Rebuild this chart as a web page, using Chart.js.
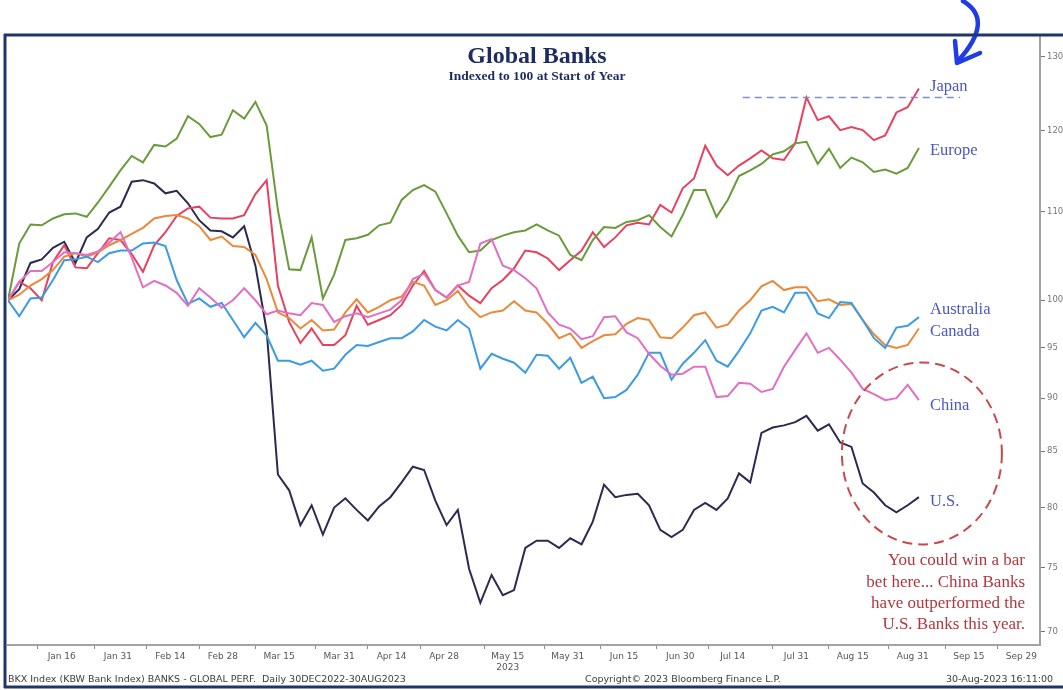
<!DOCTYPE html>
<html>
<head>
<meta charset="utf-8">
<title>Global Banks</title>
<script src="https://cdn.jsdelivr.net/npm/chart.js@4.4.1/dist/chart.umd.min.js"></script>
<style>
    html, body { margin: 0; padding: 0; background: #fff; }
    canvas { display: block; }
</style>
</head>
<body>
<canvas id="banksGraph" width="1063" height="690"></canvas>
<script>
// days since 30 Dec 2022 (sampled every 3 days up to 30 Aug 2023)
const days = [0, 3, 6, 9, 12, 15, 18, 21, 24, 27, 30, 33, 36, 39, 42, 45, 48, 51, 54, 57,
    60, 63, 66, 69, 72, 75, 78, 81, 84, 87, 90, 93, 96, 99, 102, 105, 108, 111, 114, 117,
    120, 123, 126, 129, 132, 135, 138, 141, 144, 147, 150, 153, 156, 159, 162, 165, 168, 171, 174, 177,
    180, 183, 186, 189, 192, 195, 198, 201, 204, 207, 210, 213, 216, 219, 222, 225, 228, 231, 234, 237,
    240, 243];

const japan = [100, 102.0, 101.3, 100.0, 104.2, 106.1, 103.6, 103.5, 105.2, 106.9,
    106.7, 105.1, 103.1, 106.1, 107.6, 109.5, 110.4, 110.6, 109.3, 109.2,
    109.2, 109.6, 112.1, 113.8, 101.6, 97.7, 95.5, 97.0, 95.3, 95.3,
    96.3, 99.4, 97.4, 97.9, 98.4, 99.5, 101.6, 103.2, 101.1, 100.3,
    101.6, 100.5, 99.7, 101.3, 102.2, 103.5, 105.5, 105.3, 104.6, 103.3,
    104.4, 105.5, 107.6, 105.9, 107.0, 108.4, 108.7, 108.5, 110.8, 109.9,
    112.8, 114.0, 118.1, 115.6, 114.4, 115.6, 116.5, 117.5, 116.5, 116.3,
    118.4, 124.4, 121.4, 121.9, 120.1, 120.5, 120.1, 118.8, 119.4, 122.4,
    123.1, 125.6];

const europe = [100, 106.3, 108.5, 108.4, 109.2, 109.7, 109.8, 109.4, 111.1, 113.0,
    115.0, 116.8, 116.0, 118.2, 118.0, 119.0, 121.9, 120.9, 119.2, 119.5,
    122.7, 121.6, 123.8, 120.7, 110.2, 103.4, 103.3, 107.0, 100.2, 102.8,
    106.7, 106.9, 107.3, 108.4, 108.7, 111.4, 112.6, 113.2, 112.4, 109.8,
    107.2, 105.3, 105.5, 106.7, 107.2, 107.6, 107.8, 108.5, 107.8, 107.2,
    105.0, 104.4, 106.7, 108.2, 108.1, 108.8, 109.0, 109.6, 108.2, 107.1,
    109.6, 112.6, 112.6, 109.4, 111.4, 114.3, 115.0, 115.8, 117.0, 117.4,
    118.4, 118.6, 115.8, 117.7, 115.3, 116.6, 116.0, 114.8, 115.1, 114.6,
    115.3, 117.8];

const australia = [100, 98.3, 100.2, 100.3, 102.2, 104.4, 104.5, 104.8, 104.2, 105.2,
    105.5, 105.5, 106.3, 106.4, 106.0, 102.2, 99.6, 100.2, 99.3, 99.7,
    97.9, 96.1, 97.6, 96.3, 93.7, 93.7, 93.3, 93.7, 92.7, 92.9,
    94.3, 95.3, 95.2, 95.6, 96.0, 96.0, 96.7, 97.9, 97.2, 96.8,
    97.9, 97.0, 92.9, 94.4, 93.9, 93.5, 92.5, 94.3, 94.2, 92.9,
    94.0, 91.5, 92.1, 90.0, 90.1, 90.8, 92.3, 94.5, 94.5, 91.8,
    93.4, 94.5, 95.8, 93.7, 93.1, 94.7, 96.5, 98.9, 99.3, 98.7,
    100.8, 100.8, 98.6, 98.1, 99.8, 99.7, 97.9, 96.0, 95.0, 97.1,
    97.3, 98.2];

const canada = [100, 100.6, 101.6, 102.3, 103.3, 104.8, 105.2, 104.8, 105.3, 106.1,
    106.7, 107.4, 108.1, 109.2, 109.5, 109.6, 109.2, 108.3, 106.7, 107.1,
    106.0, 105.9, 105.0, 102.3, 98.7, 98.1, 97.0, 97.9, 96.8, 96.9,
    98.7, 100.1, 98.7, 99.3, 100.0, 100.4, 102.0, 101.6, 99.5, 100.0,
    101.0, 99.3, 98.2, 98.7, 98.9, 99.9, 98.9, 98.7, 97.5, 96.0,
    96.5, 95.0, 95.7, 96.3, 96.4, 97.5, 98.1, 97.9, 96.1, 96.0,
    97.1, 98.4, 98.7, 97.1, 97.4, 98.9, 100.0, 101.5, 102.1, 101.1,
    101.4, 101.4, 99.9, 100.1, 99.5, 99.6, 97.9, 96.4, 95.3, 95.0,
    95.3, 97.0];

const china = [100, 102.0, 103.2, 103.2, 104.2, 105.3, 105.2, 105.0, 105.4, 106.4,
    107.6, 104.7, 101.4, 102.1, 101.6, 100.8, 99.4, 101.3, 100.3, 99.2,
    100.0, 101.3, 100.0, 98.5, 98.9, 98.6, 98.4, 99.7, 99.5, 97.7,
    98.3, 98.6, 98.2, 98.6, 99.0, 100.0, 102.3, 102.9, 101.1, 100.3,
    101.6, 102.0, 106.3, 106.8, 103.8, 103.3, 102.4, 101.3, 98.7, 97.4,
    97.0, 95.9, 96.2, 98.2, 98.3, 96.6, 96.0, 94.4, 93.2, 92.3,
    92.4, 93.1, 93.1, 90.1, 90.2, 91.5, 91.4, 90.6, 90.9, 93.1,
    94.8, 96.5, 94.5, 95.0, 93.8, 92.5, 90.9, 90.4, 89.8, 90.0,
    91.3, 89.8];

const us = [100, 101.2, 104.1, 104.5, 105.8, 106.5, 104.1, 107.0, 108.0, 109.9,
    110.6, 113.6, 113.8, 113.4, 112.2, 112.5, 111.0, 109.0, 107.8, 107.7,
    107.0, 108.3, 103.8, 96.8, 82.9, 81.5, 78.5, 80.2, 77.7, 80.0,
    80.8, 79.8, 78.9, 80.1, 80.9, 82.2, 83.6, 83.3, 80.6, 78.5,
    79.8, 74.9, 72.2, 74.4, 72.8, 73.2, 76.6, 77.2, 77.2, 76.6,
    77.4, 76.9, 78.8, 82.0, 80.9, 81.1, 81.2, 80.2, 78.1, 77.5,
    78.1, 79.8, 80.4, 79.8, 80.8, 83.0, 82.2, 86.7, 87.2, 87.4,
    87.7, 88.3, 86.9, 87.5, 85.8, 85.4, 82.1, 81.3, 80.2, 79.6,
    80.2, 80.9];

// x axis labels (same day count as above)
const tickDays = [17, 32, 46, 60, 75, 91, 105, 119, 136, 152, 167, 182, 196, 213, 228, 244, 259, 273];
const tickLabels = ['Jan 16', 'Jan 31', 'Feb 14', 'Feb 28', 'Mar 15', 'Mar 31', 'Apr 14', 'Apr 28',
    ['May 15', '2023'], 'May 31', 'Jun 15', 'Jun 30', 'Jul 14', 'Jul 31', 'Aug 15', 'Aug 31', 'Sep 15', 'Sep 29'];
const yTicks = [70, 75, 80, 85, 90, 95, 100, 110, 120, 130];

// Japan's July high, and how far the dashed line for it runs
const japanHighDay = 213;
const japanHighSpan = [196, 254];

const serif = '"Liberation Serif", "DejaVu Serif", serif';
const sans = '"DejaVu Sans", "Liberation Sans", sans-serif';
const labelBlue = '#4c57c2';

function series(label, data, color, tag, dy) {
    return {
        label: label,
        data: data,
        borderColor: color,
        borderWidth: 2,
        pointRadius: 0,
        tension: 0,
        tag: tag,
        tagOffset: dy
    };
}

// titles, end labels, notes and the page frame
const decorations = {
    id: 'decorations',
    beforeDraw(chart) {
        const ctx = chart.ctx;
        ctx.save();
        ctx.fillStyle = '#fff';
        ctx.fillRect(0, 0, chart.width, chart.height);
        ctx.restore();
    },
    afterDatasetsDraw(chart) {
        const ctx = chart.ctx;
        const x = chart.scales.x;
        const y = chart.scales.y;
        ctx.save();

        // title
        ctx.fillStyle = '#1d2b5e';
        ctx.textAlign = 'center';
        ctx.textBaseline = 'middle';
        ctx.font = 'bold 24px ' + serif;
        ctx.fillText('Global Banks', 537, 57);
        ctx.font = 'bold 13.5px ' + serif;
        ctx.fillText('Indexed to 100 at Start of Year', 537, 77);

        // dashed line at the Japan high
        const high = japan[days.indexOf(japanHighDay)];
        const hy = y.getPixelForValue(high);
        ctx.strokeStyle = '#7f8dc9';
        ctx.lineWidth = 1.5;
        ctx.setLineDash([7, 5]);
        ctx.beginPath();
        ctx.moveTo(x.getPixelForValue(japanHighSpan[0]), hy);
        ctx.lineTo(x.getPixelForValue(japanHighSpan[1]), hy);
        ctx.stroke();

        // series names next to the last points
        ctx.setLineDash([]);
        ctx.textAlign = 'left';
        ctx.font = '16.5px ' + serif;
        ctx.fillStyle = labelBlue;
        chart.data.datasets.forEach(ds => {
            if (!ds.tag) return;
            const last = ds.data[ds.data.length - 1];
            ctx.fillText(ds.tag, 930, y.getPixelForValue(last) + ds.tagOffset);
        });

        // dashed ring round the year-end U.S. / China gap
        const cx = x.getPixelForValue(days[days.length - 1]) + 3;
        const cy = y.getPixelForValue(84.8);
        ctx.strokeStyle = '#c9474f';
        ctx.lineWidth = 2;
        ctx.setLineDash([10, 6]);
        ctx.beginPath();
        ctx.ellipse(cx, cy, 80, 91, 0, 0, Math.PI * 2);
        ctx.stroke();
        ctx.setLineDash([]);

        ctx.fillStyle = '#b3363e';
        ctx.textAlign = 'right';
        ctx.font = '17px ' + serif;
        const note = ['You could win a bar', 'bet here... China Banks', 'have outperformed the', 'U.S. Banks this year.'];
        note.forEach((line, i) => ctx.fillText(line, 1025, 561 + i * 21.3));

        // hand drawn arrow
        ctx.strokeStyle = '#1f3de2';
        ctx.lineWidth = 4.5;
        ctx.lineCap = 'round';
        ctx.lineJoin = 'round';
        ctx.beginPath();
        ctx.moveTo(963, 1);
        ctx.quadraticCurveTo(995, 20, 958, 61);
        ctx.stroke();
        ctx.beginPath();
        ctx.moveTo(955, 41);
        ctx.lineTo(957, 63);
        ctx.lineTo(980, 53);
        ctx.stroke();
        ctx.restore();
    },
    afterDraw(chart) {
        const ctx = chart.ctx;
        ctx.save();
        // footer
        ctx.fillStyle = '#3c3c3c';
        ctx.textBaseline = 'alphabetic';
        ctx.textAlign = 'left';
        ctx.font = '9.5px ' + sans;
        ctx.fillText('BKX Index (KBW Bank Index) BANKS - GLOBAL PERF.  Daily 30DEC2022-30AUG2023', 8, 682);
        ctx.fillText('Copyright\u00a9 2023 Bloomberg Finance L.P.', 585, 682);
        ctx.fillText('30-Aug-2023 16:11:00', 946, 682);

        // frame
        ctx.strokeStyle = '#1f3668';
        ctx.lineWidth = 3;
        ctx.beginPath();
        ctx.moveTo(4, 35);
        ctx.lineTo(1063, 35);
        ctx.moveTo(5, 34);
        ctx.lineTo(5, 688);
        ctx.moveTo(4, 687);
        ctx.lineTo(1063, 687);
        ctx.stroke();
        ctx.restore();
    }
};

function banksGraph() {
    const ctx = document.getElementById('banksGraph').getContext('2d');
    return new Chart(ctx, {
        type: 'line',
        data: {
            labels: days,
            datasets: [
                series('China', china, '#e170c3', 'China', 5),
                series('Australia', australia, '#3c9be2', 'Australia', -7),
                series('Canada', canada, '#e98a3b', 'Canada', 3),
                series('Europe', europe, '#6b9a3c', 'Europe', 3),
                series('Japan', japan, '#e6415f', 'Japan', -2),
                series('U.S.', us, '#2a2b4f', 'U.S.', 4)
            ]
        },
        options: {
            responsive: false,
            animation: false,
            devicePixelRatio: 1,
            layout: { padding: { left: 8, top: 36, right: 0, bottom: 0 } },
            plugins: {
                legend: { display: false },
                tooltip: { enabled: false }
            },
            scales: {
                x: {
                    type: 'linear',
                    min: 0,
                    max: 275.3,
                    afterBuildTicks: scale => {
                        const ticks = tickDays.map(d => ({ value: d }));
                        tickDays.forEach(d => ticks.push({ value: d - 9 }));
                        scale.ticks = ticks.sort((a, b) => a.value - b.value);
                    },
                    afterFit: scale => { scale.height = 45; },
                    grid: {
                        drawOnChartArea: false,
                        tickLength: 4,
                        color: c => (c.tick && tickDays.includes(c.tick.value)) ? 'rgba(0,0,0,0)' : '#8a8a8a'
                    },
                    border: { color: '#a2a2a2', width: 2 },
                    ticks: {
                        autoSkip: false,
                        maxRotation: 0,
                        padding: 2,
                        labelOffset: -10,
                        color: '#555',
                        font: { family: sans, size: 9 },
                        callback: value => {
                            const i = tickDays.indexOf(value);
                            return i < 0 ? '' : tickLabels[i];
                        }
                    }
                },
                y: {
                    type: 'logarithmic',
                    position: 'right',
                    min: 69,
                    max: 132.9,
                    afterBuildTicks: scale => { scale.ticks = yTicks.map(v => ({ value: v })); },
                    afterFit: scale => { scale.width = 23; },
                    grid: { drawOnChartArea: false, tickLength: 5, color: '#777' },
                    border: { color: '#a2a2a2', width: 2 },
                    ticks: {
                        padding: 2,
                        color: '#777',
                        font: { family: sans, size: 8.5 },
                        callback: value => String(value)
                    }
                }
            }
        },
        plugins: [decorations]
    });
}

banksGraph();
</script>
</body>
</html>
